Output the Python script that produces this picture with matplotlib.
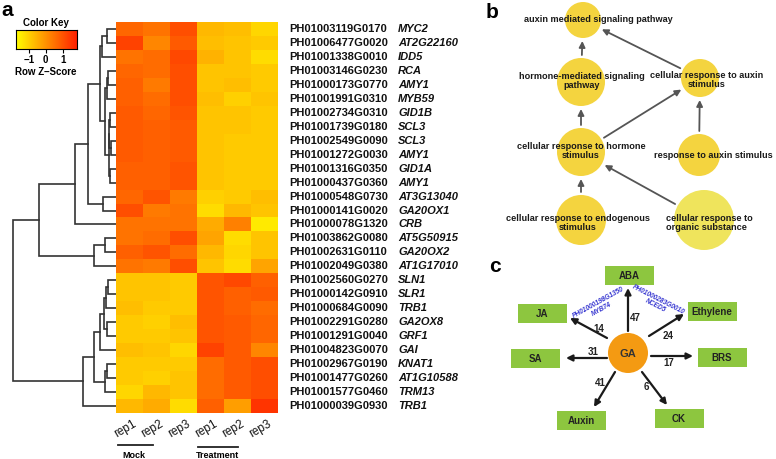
import numpy as np
import matplotlib.pyplot as plt
from matplotlib.colors import LinearSegmentedColormap
from matplotlib.patches import Circle, Rectangle

plt.rcParams['font.family'] = ['Liberation Sans', 'DejaVu Sans']

# ---- panel a data ----
gene_ids = ['PH01003119G0170', 'PH01006477G0020', 'PH01001338G0010', 'PH01003146G0230',
            'PH01000173G0770', 'PH01001991G0310', 'PH01002734G0310', 'PH01001739G0180',
            'PH01002549G0090', 'PH01001272G0030', 'PH01001316G0350', 'PH01000437G0360',
            'PH01000548G0730', 'PH01000141G0020', 'PH01000078G1320', 'PH01003862G0080',
            'PH01002631G0110', 'PH01002049G0380', 'PH01002560G0270', 'PH01000142G0910',
            'PH01000684G0090', 'PH01002291G0280', 'PH01001291G0040', 'PH01004823G0070',
            'PH01002967G0190', 'PH01001477G0260', 'PH01001577G0460', 'PH01000039G0930']
gene_names = ['MYC2', 'AT2G22160', 'IDD5', 'RCA', 'AMY1', 'MYB59', 'GID1B', 'SCL3', 'SCL3',
              'AMY1', 'GID1A', 'AMY1', 'AT3G13040', 'GA20OX1', 'CRB', 'AT5G50915', 'GA20OX2',
              'AT1G17010', 'SLN1', 'SLR1', 'TRB1', 'GA2OX8', 'GRF1', 'GAI', 'KNAT1',
              'AT1G10588', 'TRM13', 'TRB1']
samples = ['rep1', 'rep2', 'rep3', 'rep1', 'rep2', 'rep3']
groups = ['Mock', 'Treatment']

zscore = np.array([
    [0.7, 0.5, 1.1, -0.6, -0.7, -1.1],
    [1.3, 0.2, 0.9, -0.7, -0.8, -0.9],
    [0.5, 0.6, 1.2, -0.5, -0.8, -1.2],
    [0.7, 0.6, 1.1, -0.8, -0.8, -0.9],
    [0.8, 0.4, 1.1, -0.8, -0.7, -0.9],
    [0.8, 0.6, 1.1, -0.7, -1.0, -0.8],
    [0.9, 0.7, 1.0, -0.8, -0.8, -0.9],
    [0.9, 0.8, 0.9, -0.8, -0.8, -0.9],
    [0.9, 0.8, 0.9, -0.8, -0.9, -0.9],
    [0.9, 0.8, 0.9, -0.8, -0.9, -0.9],
    [0.8, 0.8, 1.0, -0.8, -0.9, -0.9],
    [0.8, 0.8, 1.0, -0.8, -0.9, -0.9],
    [0.7, 1.0, 0.4, -1.0, -0.9, -0.7],
    [1.1, 0.4, 0.5, -1.2, -0.6, -0.8],
    [0.5, 0.5, 0.5, -0.4, 0.3, -1.4],
    [0.5, 0.6, 1.1, -0.3, -1.2, -0.8],
    [0.8, 1.0, 0.6, -0.6, -1.1, -0.8],
    [0.5, 0.4, 1.1, -0.8, -1.2, -0.3],
    [-0.8, -0.8, -0.9, 1.0, 1.2, 0.8],
    [-0.8, -0.8, -0.9, 1.0, 0.8, 0.9],
    [-0.7, -0.9, -0.9, 1.0, 0.8, 0.6],
    [-0.9, -1.0, -0.7, 1.0, 0.9, 0.7],
    [-0.9, -0.9, -0.8, 1.0, 0.9, 0.7],
    [-0.7, -0.8, -1.1, 1.3, 0.9, 0.2],
    [-0.9, -0.9, -0.9, 0.6, 0.9, 1.1],
    [-0.9, -1.0, -0.8, 0.6, 0.9, 1.1],
    [-1.1, -0.6, -0.8, 0.6, 0.9, 1.1],
    [-0.6, -0.4, -1.2, 0.8, -0.2, 1.5],
])

# row tree: (left node, right node, height); leaves are rows 0..27, new nodes from 28
merges = [
    (0, 1, 9), (28, 2, 14), (3, 4, 8), (30, 5, 9), (6, 7, 6), (8, 9, 5), (10, 11, 6),
    (32, 33, 7), (35, 34, 7.5), (31, 36, 11), (29, 37, 16), (12, 13, 13), (38, 39, 28),
    (40, 14, 41), (15, 16, 11), (42, 17, 22), (41, 43, 77), (18, 19, 8), (45, 20, 10),
    (21, 22, 9), (46, 47, 12), (48, 23, 16), (24, 25, 9), (50, 26, 11), (49, 51, 22),
    (52, 27, 33), (44, 53, 103),
]

# ---- panel b data ----
go_terms = ['auxin mediated signaling pathway',
            'hormone-mediated signaling\npathway',
            'cellular response to auxin\nstimulus',
            'cellular response to hormone\nstimulus',
            'response to auxin stimulus',
            'cellular response to endogenous\nstimulus',
            'cellular response to\norganic substance']
go_edges = [(1, 0), (2, 0), (3, 1), (3, 2), (4, 2), (5, 3), (6, 3)]

# ---- panel c data ----
hormones = ['ABA', 'Ethylene', 'BRS', 'CK', 'Auxin', 'SA', 'JA']
gene_links = [47, 24, 17, 6, 41, 31, 14]

W, H = 776, 459
fig = plt.figure(figsize=(W / 100, H / 100), dpi=100)


def px_axes(x0, y0, x1, y1):
    return fig.add_axes([x0 / W, 1 - y1 / H, (x1 - x0) / W, (y1 - y0) / H])


cmap = LinearSegmentedColormap.from_list('heat', ['#FFFF00', '#FF2000'])
vmin, vmax = -1.75, 1.85
nrow, ncol = zscore.shape

# heatmap
ax_h = px_axes(116, 22, 278, 413)
ax_h.imshow(zscore, cmap=cmap, vmin=vmin, vmax=vmax, aspect='auto',
            extent=(0, ncol, nrow, 0), interpolation='nearest')
ax_h.set_xlim(0, ncol)
ax_h.set_ylim(nrow, 0)
ax_h.axis('off')
ytr = ax_h.get_yaxis_transform()
for i in range(nrow):
    ax_h.text(1.068, i + 0.5, gene_ids[i], transform=ytr, fontsize=8, fontweight='bold',
              va='center', ha='left', color='#111')
    ax_h.text(1.741, i + 0.5, gene_names[i], transform=ytr, fontsize=8, fontweight='bold',
              style='italic', va='center', ha='left', color='#111')
for j, s in enumerate(samples):
    ax_h.text(j + 0.62, nrow + 0.35, s, fontsize=8.5, rotation=30, ha='right', va='top',
              rotation_mode='anchor', color='#111')

# dendrogram
ax_d = px_axes(0, 22, 116, 413)
pos = {i: (0.0, i + 0.5) for i in range(nrow)}
for k, (a, b, h) in enumerate(merges):
    ha_, ya = pos[a]
    hb, yb = pos[b]
    ax_d.plot([ha_, h, h, hb], [ya, ya, yb, yb], color='#333333', lw=1.2,
              solid_joinstyle='miter')
    pos[nrow + k] = (h, (ya + yb) / 2)
ax_d.set_xlim(116, 0)
ax_d.set_ylim(nrow, 0)
ax_d.axis('off')

# color key
ax_k = px_axes(16, 30, 77, 49)
grad = np.linspace(vmin, vmax, 256)[None, :]
ax_k.imshow(grad, cmap=cmap, vmin=vmin, vmax=vmax, aspect='auto',
            extent=(vmin, vmax, 0, 1))
ax_k.set_yticks([])
ax_k.set_xticks([-1, 0, 1])
ax_k.set_xticklabels(['\u22121', '0', '1'], fontsize=7, fontweight='bold')
ax_k.tick_params(axis='x', length=3, width=0.8, pad=1.5)
for sp in ax_k.spines.values():
    sp.set_linewidth(0.8)

# overlay for annotations, panels b and c
ax = fig.add_axes([0, 0, 1, 1])
ax.set_xlim(0, W)
ax.set_ylim(H, 0)
ax.axis('off')
ax.patch.set_alpha(0)

ax.text(1, 10, 'a', fontsize=15, fontweight='bold', va='center')
ax.text(492, 12, 'b', fontsize=15, fontweight='bold', va='center', ha='center')
ax.text(495, 266, 'c', fontsize=15, fontweight='bold', va='center', ha='center')

ax.text(46, 23, 'Color Key', fontsize=7, fontweight='bold', ha='center', va='center')
ax.text(46, 72, 'Row Z\u2013Score', fontsize=7, fontweight='bold', ha='center', va='center')

# group bars under heatmap
group_bars = [(118, 153, 445, 134, 455), (198, 238, 447, 218, 456)]
for g, (x0, x1, yl, xt, yt) in zip(groups, group_bars):
    ax.plot([x0, x1], [yl, yl], color='#222', lw=1.3)
    ax.text(xt, yt, g, fontsize=6.5, fontweight='bold', ha='center', va='center')

# panel b: GO network
go_xy = [(583, 20, 18), (581, 82, 24), (700, 78, 19), (581, 152, 24),
         (699, 155, 21), (581, 220, 25), (704, 220, 30)]
go_col = ['#F4D43F'] * 6 + ['#EFE45C']
go_lab = [(598, 20, 'center'), (582, 81, 'center'), (707, 80, 'center'), (581, 151, 'center'),
          (713, 155, 'center'), (578, 223, 'center'), (666, 223, 'left')]
for (x, y, r), c in zip(go_xy, go_col):
    ax.add_patch(Circle((x, y), r, color=c, lw=0, zorder=1))
for s, t in go_edges:
    xs, ys, rs = go_xy[s]
    xt, yt, rt = go_xy[t]
    u = np.array([xt - xs, yt - ys], float)
    u /= np.hypot(*u)
    p0 = np.array([xs, ys]) + u * (rs + 3)
    p1 = np.array([xt, yt]) - u * (rt + 3)
    ax.annotate('', xy=p1, xytext=p0,
                arrowprops=dict(arrowstyle='-|>', color='#555555', lw=1.3,
                                mutation_scale=9, shrinkA=0, shrinkB=0), zorder=2)
for term, (x, y, al) in zip(go_terms, go_lab):
    ax.text(x, y, term, fontsize=6.6, fontweight='bold', ha=al, va='center',
            multialignment=al, color='#1a1a1a', linespacing=1.05, zorder=3)

# panel c: GA crosstalk
ga_x, ga_y, ga_r = 628, 353, 20
ax.add_patch(Circle((ga_x, ga_y), ga_r, color='#F49A12', lw=0, zorder=2))
ax.text(ga_x, ga_y + 1, 'GA', fontsize=8, fontweight='bold', ha='center', va='center',
        color='#333', zorder=3)
box_xy = [(629, 275), (712, 311), (722, 357), (679, 418), (581, 420), (535, 358), (542, 313)]
arrow_se = [((628, 331), (628, 288)), ((649, 336), (684, 314)), ((651, 356), (693, 356)),
            ((642, 372), (667, 405)), ((615, 372), (594, 407)), ((607, 358), (566, 358)),
            ((607, 338), (570, 318))]
num_xy = [(635, 318), (668, 336), (669, 363), (646, 387), (600, 383), (593, 352), (599, 329)]
for name, n, (bx, by), (p0, p1), (nx, ny) in zip(hormones, gene_links, box_xy, arrow_se, num_xy):
    ax.add_patch(Rectangle((bx - 24.5, by - 9.5), 49, 19, color='#8DC63F', lw=0, zorder=2))
    ax.text(bx, by + 1, name, fontsize=7, fontweight='bold', ha='center', va='center',
            color='#222', zorder=3)
    ax.annotate('', xy=p1, xytext=p0,
                arrowprops=dict(arrowstyle='-|>', color='#1a1a1a', lw=1.6,
                                mutation_scale=9, shrinkA=0, shrinkB=0), zorder=2)
    ax.text(nx, ny, str(n), fontsize=7, fontweight='bold', ha='center', va='center',
            color='#222', zorder=3)

ax.text(600, 306, 'PH01000198G1350\nMYB74', fontsize=4.8, fontweight='bold', style='italic',
        color='#3434D0', rotation=29, ha='center', va='center', rotation_mode='anchor',
        linespacing=1.0)
ax.text(657, 303, 'PH01000283G0010\nNCED5', fontsize=4.8, fontweight='bold', style='italic',
        color='#3434D0', rotation=-27, ha='center', va='center', rotation_mode='anchor',
        linespacing=1.0)

fig.savefig('out.png', dpi=100)
